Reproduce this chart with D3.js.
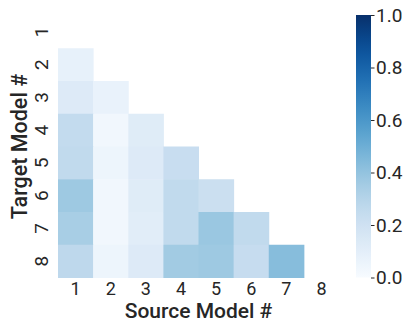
<!DOCTYPE html>
<html><head><meta charset="utf-8">
<script src="https://cdn.jsdelivr.net/npm/d3@7"></script>
<style>
body{margin:0;background:#fff;}
text{font-family:Roboto,"DejaVu Sans",sans-serif;fill:#262626;}
</style></head>
<body><svg id="c" width="404" height="322"></svg>
<script>
const sources = ["1","2","3","4","5","6","7","8"];
const targets = ["1","2","3","4","5","6","7","8"];
// values[t][s], null = masked (upper triangle incl. diagonal)
const row1 = [null,null,null,null,null,null,null,null];
const row2 = [0.08,null,null,null,null,null,null,null];
const row3 = [0.13,0.07,null,null,null,null,null,null];
const row4 = [0.25,0.03,0.12,null,null,null,null,null];
const row5 = [0.26,0.05,0.13,0.23,null,null,null,null];
const row6 = [0.37,0.03,0.12,0.26,0.22,null,null,null];
const row7 = [0.34,0.03,0.11,0.26,0.38,0.26,null,null];
const row8 = [0.27,0.05,0.13,0.36,0.37,0.24,0.43,null];
const values = [row1,row2,row3,row4,row5,row6,row7,row8];
const cbarTicks = [0,0.2,0.4,0.6,0.8,1.0];

const svg = d3.select("#c");
const L=58,R=339,T=15.5,B=277.5;
const x = d3.scaleBand().domain(sources).range([L,R]);
const y = d3.scaleBand().domain(targets).range([T,B]);
const color = d3.scaleSequential(d3.interpolateBlues).domain([0,1]);

const cells=[];
values.forEach((r,i)=>r.forEach((v,j)=>{ if(v!==null) cells.push({t:targets[i],s:sources[j],v}); }));
svg.append("g").selectAll("rect").data(cells).join("rect")
  .attr("x",d=>x(d.s)).attr("y",d=>y(d.t))
  .attr("width",x.bandwidth()+0.5).attr("height",y.bandwidth()+0.5)
  .attr("fill",d=>color(d.v));

const xa = svg.append("g").attr("transform",`translate(0,${B})`)
  .call(d3.axisBottom(x).tickSize(0).tickPadding(0));
xa.select(".domain").remove();
xa.selectAll("text").style("font-size","18px").attr("y",17.5).attr("dy",null).style("fill","#262626");

const ya = svg.append("g").attr("class","yax");
ya.selectAll("text").data(targets).join("text")
  .attr("text-anchor","middle").attr("dy","0.355em")
  .style("font-size","19px")
  .attr("transform",d=>`translate(41.5,${y(d)+y.bandwidth()/2}) rotate(-90)`)
  .text(d=>d);

svg.append("text").attr("x",(L+R)/2).attr("y",317.5).attr("text-anchor","middle")
  .style("font-size","21px").style("font-weight","500").text("Source Model #");
svg.append("text").attr("transform",`translate(26.5,${(T+B)/2}) rotate(-90)`).attr("text-anchor","middle")
  .style("font-size","21.5px").style("font-weight","500").text("Target Model #");

// colorbar
const cx=356,cw=15;
const cy = d3.scaleLinear().domain([0,1]).range([277.5,15]);
const defs=svg.append("defs");
const grad=defs.append("linearGradient").attr("id","g").attr("x1",0).attr("y1",1).attr("x2",0).attr("y2",0);
d3.range(0,1.001,0.05).forEach(t=>grad.append("stop").attr("offset",t).attr("stop-color",color(t)));
svg.append("rect").attr("x",cx).attr("y",cy(1)).attr("width",cw).attr("height",cy(0)-cy(1)).attr("fill","url(#g)");
const ca=svg.append("g").attr("transform",`translate(${cx+cw},0)`)
  .call(d3.axisRight(cy).tickValues(cbarTicks).tickFormat(d3.format(".1f")).tickSize(3.5).tickPadding(1.5));
ca.select(".domain").remove();
ca.selectAll("line").attr("stroke","#262626");
ca.selectAll("text").style("font-size","19px").style("fill","#262626");
</script></body></html>
